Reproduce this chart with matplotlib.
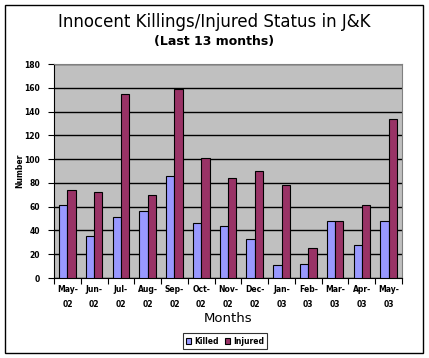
import numpy as np
import matplotlib.pyplot as plt
from matplotlib.patches import Rectangle

months = ["May-\n02", "Jun-\n02", "Jul-\n02", "Aug-\n02", "Sep-\n02", "Oct-\n02", "Nov-\n02",
          "Dec-\n02", "Jan-\n03", "Feb-\n03", "Mar-\n03", "Apr-\n03", "May-\n03"]
killed = [61, 35, 51, 56, 86, 46, 44, 33, 11, 12, 48, 28, 48]
injured = [74, 72, 155, 70, 159, 101, 84, 90, 78, 25, 48, 61, 134]
yticks = [0, 20, 40, 60, 80, 100, 120, 140, 160, 180]

fig = plt.figure(figsize=(4.29, 3.58), dpi=100)
fig.patch.set_facecolor("white")

# outer chart border
fig.add_artist(Rectangle((5 / 429, 5 / 358), 418 / 429, 348 / 358, transform=fig.transFigure,
                         fill=False, edgecolor="black", linewidth=1.0))

ax = fig.add_axes([54 / 429, 80 / 358, 348 / 429, 214 / 358])
ax.set_facecolor("#C0C0C0")

x = np.arange(len(months))
w = 0.31
ax.bar(x - w / 2, killed, w, color="#9999FF", edgecolor="black", linewidth=0.8, zorder=3, label="Killed")
ax.bar(x + w / 2, injured, w, color="#993366", edgecolor="black", linewidth=0.8, zorder=3, label="Injured")

ax.set_xlim(-0.5, len(months) - 0.5)
ax.set_ylim(0, 180)
ax.set_yticks(yticks)
ax.yaxis.grid(True, color="black", linewidth=1.0, zorder=1)
ax.set_axisbelow(True)

ax.set_xticks(np.arange(-0.5, len(months), 1))
ax.set_xticklabels([])
ax.set_xticks(x, minor=True)
ax.set_xticklabels(months, minor=True, fontsize=5.5, fontweight="bold", linespacing=1.9)
ax.tick_params(axis="x", which="minor", length=0, pad=5)
ax.tick_params(axis="x", which="major", length=4, width=0.8)
ax.tick_params(axis="y", length=4, width=0.8, labelsize=5.5, pad=6)
for lbl in ax.get_yticklabels():
    lbl.set_fontweight("bold")

for s in ["top", "right"]:
    ax.spines[s].set_color("#808080")
for s in ["left", "bottom"]:
    ax.spines[s].set_color("black")

ax.set_ylabel("Number", fontsize=5.5, fontweight="bold")
ax.yaxis.set_label_coords(-30 / 348, 0.5)
ax.set_xlabel("Months", fontsize=9.5, labelpad=2)

fig.text(0.5, 1 - 22 / 358, "Innocent Killings/Injured Status in J&K", ha="center", va="center", fontsize=12)
fig.text(0.5, 1 - 42 / 358, "(Last 13 months)", ha="center", va="center", fontsize=9, fontweight="bold")

leg = fig.legend(loc="center", bbox_to_anchor=(225 / 429, 1 - 341 / 358), ncol=2, fontsize=5.5,
                 frameon=True, fancybox=False, edgecolor="black", handlelength=0.7, handleheight=0.7,
                 handletextpad=0.4, columnspacing=0.8, borderpad=0.4)
leg.get_frame().set_linewidth(0.8)
for t in leg.get_texts():
    t.set_fontweight("bold")

fig.savefig("out.png", dpi=100)
